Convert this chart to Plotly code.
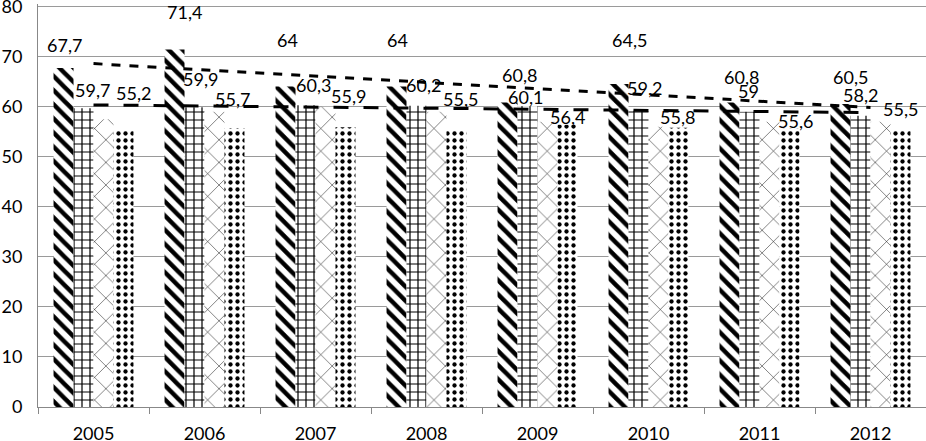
import numpy as np
import plotly.graph_objects as go

years = ["2005", "2006", "2007", "2008", "2009", "2010", "2011", "2012"]
series_a = [67.7, 71.4, 64, 64, 60.8, 64.5, 60.8, 60.5]      # backslash stripes
series_b = [59.7, 59.9, 60.3, 60.2, 60.1, 59.2, 59, 58.2]    # grid
series_c = [57.5, 59, 60, 59, 57, 56, 57, 57]                # zigzag (unlabelled)
series_d = [55.2, 55.7, 55.9, 55.5, 56.4, 55.8, 55.6, 55.5]  # dots

# label placement tweaks (pixels): horizontal offset from bar centre, height of label centre above bar top
lab_dx_a = [0.5, 10, 1.5, 0.5, 12, 11, 12, 10]
lab_dy_a = [23.5, 38, 47, 47, 28, 44.5, 26, 27.5]
lab_dx_b = [9, 5.5, 8, 7, -2.5, 6, -1.5, 0]
lab_dy_b = [18.5, 28, 20.5, 21, 9.5, 23, 21, 21]
lab_dx_d = [9.5, -2, 3, 3.5, 0, -1.5, 5.5, 0]
lab_dy_d = [37.5, 29.5, 31.5, 30.5, 8, 11, 8, 20.5]

def lab(v):
    return ("%g" % v).replace(".", ",")

FONT = "Lato, 'Open Sans', sans-serif"
FS = 18
BAR_PX = 20  # approx. rendered bar width

fig = go.Figure()

def add_bar(vals, shape, size, solidity):
    fig.add_trace(go.Bar(
        x=years, y=vals,
        marker=dict(color="white", line=dict(width=0),
                    pattern=dict(shape=shape, size=size, solidity=solidity,
                                 fgcolor="black", bgcolor="white",
                                 fillmode="replace", fgopacity=1)),
        showlegend=False, hoverinfo="skip",
    ))

add_bar(series_a, "\\", 10, 0.45)
add_bar(series_b, "+", 8, 0.28)
add_bar(series_c, "x", 16, 0.06)
add_bar(series_d, ".", 7, 0.3)

xi = np.arange(len(years))
ka, ba = np.polyfit(xi, series_a, 1)
kb, bb = np.polyfit(xi, series_b, 1)
trend_a = list(ka * xi + ba)
trend_b = list(kb * xi + bb)

fig.add_trace(go.Scatter(x=years, y=trend_a, mode="lines",
                         line=dict(color="black", width=3, dash="dash"),
                         showlegend=False, cliponaxis=False, hoverinfo="skip"))
fig.add_trace(go.Scatter(x=years, y=trend_b, mode="lines",
                         line=dict(color="black", width=3, dash="longdash"),
                         showlegend=False, cliponaxis=False, hoverinfo="skip"))

# data labels (x given as category index)
for vals, idx, dxs, dys in [(series_a, 0, lab_dx_a, lab_dy_a),
                            (series_b, 1, lab_dx_b, lab_dy_b),
                            (series_d, 3, lab_dx_d, lab_dy_d)]:
    for k, (v, dx, dy) in enumerate(zip(vals, dxs, dys)):
        fig.add_annotation(x=k, y=v, xref="x", yref="y", text=lab(v), showarrow=False,
                           xanchor="center", yanchor="middle",
                           xshift=(idx - 1.5) * BAR_PX + dx, yshift=dy,
                           font=dict(family=FONT, size=FS, color="black"))

fig.update_layout(
    width=926, height=441,
    margin=dict(l=38, r=0, t=4, b=34, autoexpand=False),
    paper_bgcolor="white", plot_bgcolor="white",
    barmode="group", bargap=0.28, bargroupgap=0,
    font=dict(family=FONT, size=FS, color="black"),
    hovermode=False,
)
fig.update_xaxes(
    type="category", categoryorder="array", categoryarray=years,
    range=[-0.5, len(years) - 0.5],
    showline=True, linecolor="#888888", linewidth=1,
    ticks="outside", tickson="boundaries", ticklen=6, tickcolor="#888888",
    showgrid=False, tickfont=dict(family=FONT, size=FS), automargin=False,
    ticklabelstandoff=10,
)
fig.update_yaxes(
    range=[0, 80.5], tickvals=[0, 10, 20, 30, 40, 50, 60, 70, 80],
    showgrid=True, gridcolor="#9a9a9a", gridwidth=1,
    showline=True, linecolor="#888888", linewidth=1, zeroline=False,
    ticks="", tickfont=dict(family=FONT, size=FS), ticklabelstandoff=11,
    automargin=False, ticklabeloverflow="allow",
)

fig.write_html("out.html", config={"displayModeBar": False},
               post_script="document.body.style.margin='0';")
